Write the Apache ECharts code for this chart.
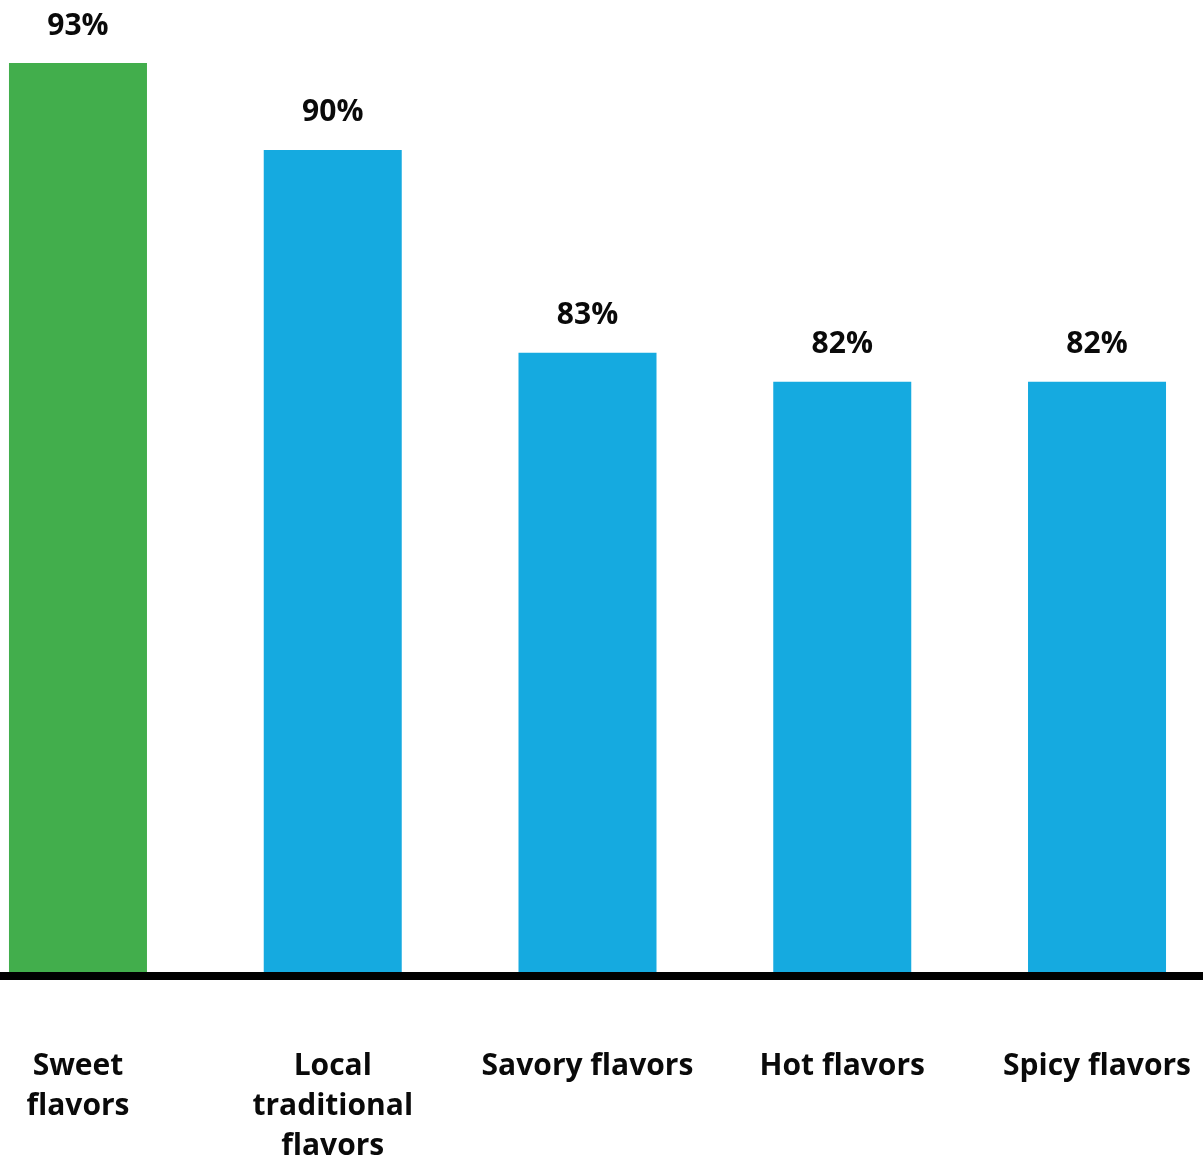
<!DOCTYPE html>
<html>
<head>
<meta charset="utf-8">
<script src="https://cdn.jsdelivr.net/npm/echarts@6/dist/echarts.min.js"></script>
<style>
html,body{margin:0;padding:0;background:#fff;overflow:hidden;}
#chart{width:1203px;height:1160px;}
</style>
</head>
<body>
<div id="chart"></div>
<script>
const categories = ["Sweet\nflavors", "Local\ntraditional\nflavors", "Savory flavors", "Hot flavors", "Spicy flavors"];
const values = [93, 90, 83, 82, 82];
const barColors = ["#42AE4C", "#15AAE0", "#15AAE0", "#15AAE0", "#15AAE0"];

const chart = echarts.init(document.getElementById('chart'), null, {renderer: 'canvas'});
const font = '"Open Sans", Lato, sans-serif';
chart.setOption({
  animation: false,
  grid: {left: -49.4, right: -21.4, top: 63, bottom: 184, containLabel: false, outerBoundsMode: 'none'},
  xAxis: {
    type: 'category',
    data: categories,
    z: 5,
    axisLine: {lineStyle: {color: '#000', width: 8}},
    axisTick: {show: false},
    axisLabel: {
      interval: 0, margin: 70, color: '#0a0a0a',
      fontFamily: font, fontWeight: 'bold', fontSize: 30, lineHeight: 40
    }
  },
  yAxis: {
    type: 'value', min: 61.5, max: 93,
    show: false, splitLine: {show: false}
  },
  series: [{
    type: 'bar',
    barWidth: 138,
    data: values.map((v, i) => ({value: v, itemStyle: {color: barColors[i]}})),
    label: {
      show: true, position: 'top', distance: 22,
      formatter: p => p.value + '%',
      color: '#0a0a0a', fontFamily: font, fontWeight: 'bold', fontSize: 30
    }
  }]
});
</script>
</body>
</html>
